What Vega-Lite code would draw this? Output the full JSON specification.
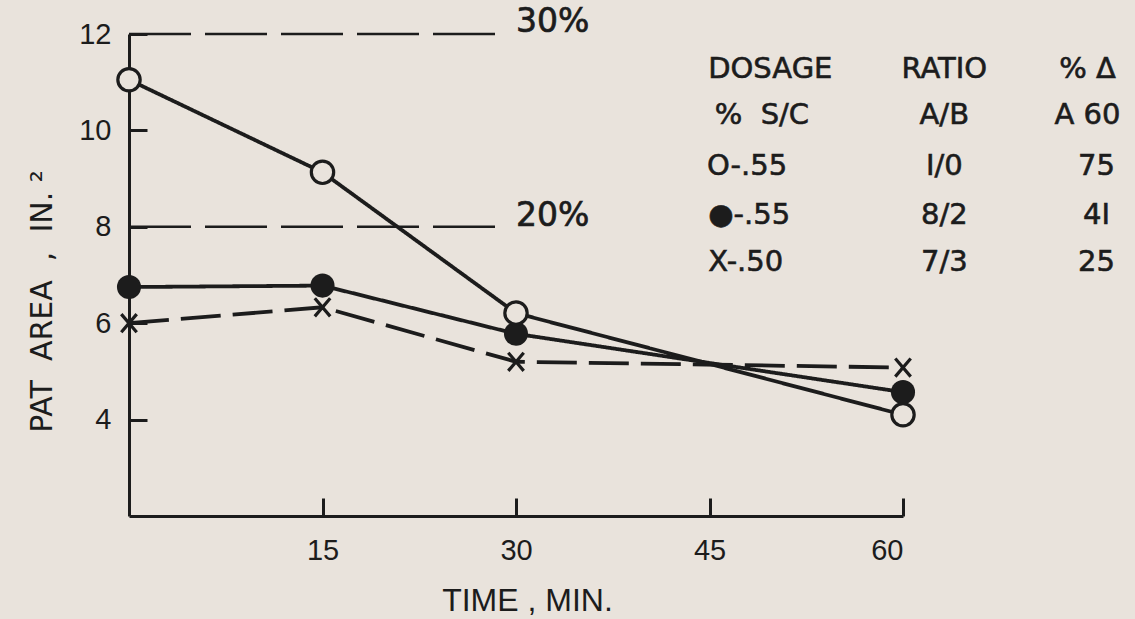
{
  "$schema": "https://vega.github.io/schema/vega-lite/v6.json",
  "width": 774,
  "height": 482,
  "autosize": {"type": "none"},
  "padding": {"left": 129, "top": 34, "right": 232, "bottom": 103},
  "background": "#e9e3dc",
  "config": {"view": {"stroke": null}, "font": "DejaVu Sans"},
  "datasets": {
    "series": [
      {"s": "open", "t": 0, "v": 11.05},
      {"s": "open", "t": 15, "v": 9.13},
      {"s": "open", "t": 30, "v": 6.21},
      {"s": "open", "t": 60, "v": 4.1},
      {"s": "filled", "t": 0, "v": 6.75},
      {"s": "filled", "t": 15, "v": 6.78},
      {"s": "filled", "t": 30, "v": 5.78},
      {"s": "filled", "t": 60, "v": 4.57},
      {"s": "x", "t": 0, "v": 6.0},
      {"s": "x", "t": 15, "v": 6.33},
      {"s": "x", "t": 30, "v": 5.2},
      {"s": "x", "t": 60, "v": 5.08}
    ],
    "refs": [
      {"v": 12, "t": 0, "t2": 28.6, "tl": 30.0, "vl": 12.25, "label": "30%"},
      {"v": 8, "t": 0, "t2": 28.6, "tl": 30.0, "vl": 8.22, "label": "20%"}
    ],
    "legend": [
      {"col": 1, "t": 44.9, "v": 11.27, "txt": "DOSAGE"},
      {"col": 1, "t": 45.4, "v": 10.32, "txt": "%\u00a0\u00a0S/C"},
      {"col": 1, "t": 44.8, "v": 9.26, "txt": "O-.55"},
      {"col": 1, "t": 44.9, "v": 8.24, "txt": "●-.55"},
      {"col": 1, "t": 44.9, "v": 7.27, "txt": "X-.50"},
      {"col": 2, "t": 63.2, "v": 11.27, "txt": "RATIO"},
      {"col": 2, "t": 63.2, "v": 10.32, "txt": "A/B"},
      {"col": 2, "t": 63.2, "v": 9.26, "txt": "I/0"},
      {"col": 2, "t": 63.2, "v": 8.24, "txt": "8/2"},
      {"col": 2, "t": 63.2, "v": 7.27, "txt": "7/3"},
      {"col": 3, "t": 74.3, "v": 11.27, "txt": "% Δ"},
      {"col": 3, "t": 74.3, "v": 10.32, "txt": "A 60"},
      {"col": 3, "t": 75.0, "v": 9.26, "txt": "75"},
      {"col": 3, "t": 75.0, "v": 8.24, "txt": "4I"},
      {"col": 3, "t": 75.0, "v": 7.27, "txt": "25"}
    ]
  },
  "layer": [
    {
      "data": {"name": "refs"},
      "mark": {"type": "rule", "strokeDash": [62, 14], "strokeWidth": 2.5, "color": "#1c1c1c"},
      "encoding": {
        "x": {
          "field": "t", "type": "quantitative",
          "scale": {"domain": [0, 60], "nice": false, "zero": false},
          "axis": {
            "title": "TIME , MIN.", "values": [15, 30, 45, 60], "grid": false,
            "tickSize": -18, "tickWidth": 3, "tickColor": "#1c1c1c",
            "domainWidth": 3, "domainColor": "#1c1c1c",
            "labelFont": "Liberation Sans", "labelFontSize": 29, "labelColor": "#1c1c1c", "labelPadding": 38,
            "titleFont": "Liberation Sans", "titleFontSize": 32, "titleFontWeight": "normal", "titleColor": "#1c1c1c",
            "titleX": 398, "titleY": 84, "titleBaseline": "middle", "titleAlign": "center"
          }
        },
        "x2": {"field": "t2"},
        "y": {
          "field": "v", "type": "quantitative",
          "scale": {"domain": [2, 12], "nice": false, "zero": false},
          "axis": {
            "title": "PAT\u00a0\u00a0AREA\u00a0\u00a0,\u00a0\u00a0IN.\u00a0²", "values": [4, 6, 8, 10, 12], "grid": false,
            "tickSize": -18, "tickWidth": 3, "tickColor": "#1c1c1c",
            "domainWidth": 3, "domainColor": "#1c1c1c",
            "labelFont": "Liberation Sans", "labelFontSize": 29, "labelColor": "#1c1c1c", "labelPadding": 36,
            "titleFont": "DejaVu Sans", "titleFontSize": 30, "titleFontWeight": "normal", "titleColor": "#1c1c1c",
            "titleX": -87, "titleY": 267, "titleAngle": 270, "titleBaseline": "middle", "titleAlign": "center"
          }
        }
      }
    },
    {
      "data": {"name": "refs"},
      "mark": {"type": "text", "align": "left", "baseline": "middle", "font": "DejaVu Sans", "fontSize": 33, "color": "#1c1c1c", "stroke": "#1c1c1c", "strokeWidth": 0.7},
      "encoding": {
        "x": {"field": "tl", "type": "quantitative"},
        "y": {"field": "vl", "type": "quantitative"},
        "text": {"field": "label"}
      }
    },
    {
      "data": {"name": "series"},
      "mark": {"type": "line", "strokeWidth": 3.8, "color": "#1c1c1c"},
      "encoding": {
        "x": {"field": "t", "type": "quantitative"},
        "y": {"field": "v", "type": "quantitative"},
        "detail": {"field": "s"},
        "strokeDash": {
          "field": "s", "type": "nominal",
          "scale": {"domain": ["open", "filled", "x"], "range": [[1, 0], [1, 0], [40, 12]]},
          "legend": null
        }
      }
    },
    {
      "data": {"name": "series"},
      "transform": [{"filter": "datum.s === 'x'"}],
      "mark": {"type": "point", "shape": "M-0.85,-1L0.85,1M0.85,-1L-0.85,1", "size": 330, "strokeWidth": 3.2, "filled": false, "color": "#1c1c1c", "opacity": 1},
      "encoding": {
        "x": {"field": "t", "type": "quantitative"},
        "y": {"field": "v", "type": "quantitative"}
      }
    },
    {
      "data": {"name": "series"},
      "transform": [{"filter": "datum.s === 'filled'"}],
      "mark": {"type": "circle", "size": 580, "color": "#1c1c1c", "opacity": 1},
      "encoding": {
        "x": {"field": "t", "type": "quantitative"},
        "y": {"field": "v", "type": "quantitative"}
      }
    },
    {
      "data": {"name": "series"},
      "transform": [{"filter": "datum.s === 'open'"}],
      "mark": {"type": "point", "shape": "circle", "size": 500, "strokeWidth": 3.2, "filled": false, "fill": "#e9e3dc", "stroke": "#1c1c1c", "fillOpacity": 1, "opacity": 1},
      "encoding": {
        "x": {"field": "t", "type": "quantitative"},
        "y": {"field": "v", "type": "quantitative"}
      }
    },
    {
      "data": {"name": "legend"},
      "transform": [{"filter": "datum.col === 1"}],
      "mark": {"type": "text", "align": "left", "baseline": "middle", "font": "DejaVu Sans", "fontSize": 29, "color": "#1c1c1c", "stroke": "#1c1c1c", "strokeWidth": 0.6},
      "encoding": {
        "x": {"field": "t", "type": "quantitative"},
        "y": {"field": "v", "type": "quantitative"},
        "text": {"field": "txt"}
      }
    },
    {
      "data": {"name": "legend"},
      "transform": [{"filter": "datum.col !== 1"}],
      "mark": {"type": "text", "align": "center", "baseline": "middle", "font": "DejaVu Sans", "fontSize": 29, "color": "#1c1c1c", "stroke": "#1c1c1c", "strokeWidth": 0.6},
      "encoding": {
        "x": {"field": "t", "type": "quantitative"},
        "y": {"field": "v", "type": "quantitative"},
        "text": {"field": "txt"}
      }
    }
  ]
}
